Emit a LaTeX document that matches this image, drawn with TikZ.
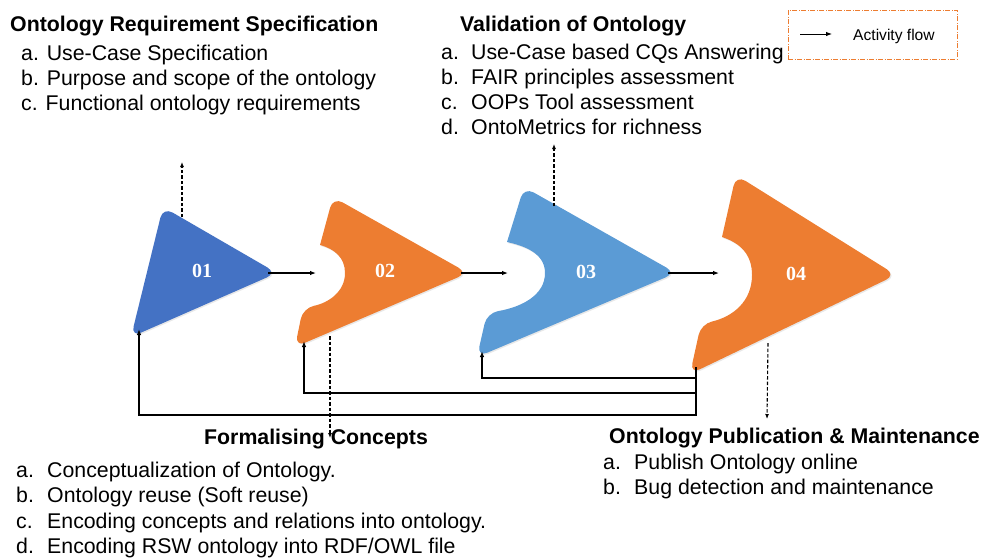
\documentclass[tikz,border=0pt]{standalone}
\usepackage{fontspec}
\setsansfont{Liberation Sans}
\newfontfamily\numfont{Liberation Serif}
\usetikzlibrary{arrows.meta,shadows}
\definecolor{cblue}{HTML}{4472C4}
\definecolor{corange}{HTML}{ED7D31}
\definecolor{clight}{HTML}{5B9BD5}
\tikzset{
  shp/.style={drop shadow={shadow xshift=1.2pt,shadow yshift=-1.2pt,opacity=0.18}},
  num/.style={text=white,font=\numfont\bfseries\fontsize{20}{22}\selectfont},
  flow/.style={-{Latex[length=6pt,width=4.5pt]},line width=1.1pt},
  dflow/.style={-{Latex[length=5pt,width=4pt]},line width=1.1pt,dash pattern=on 3.5pt off 2pt},
  head/.style={anchor=base west,inner sep=0pt,font=\sffamily\bfseries\fontsize{21.3}{24}\selectfont},
  item/.style={anchor=base west,inner sep=0pt,font=\sffamily\fontsize{21.3}{24}\selectfont},
  legbox/.style={draw=corange,line width=0.9pt,dash pattern=on 5pt off 1.5pt on 1pt off 1.5pt,minimum width=169pt,minimum height=49pt,inner sep=0pt}
}
\begin{document}
\begin{tikzpicture}[x=1pt,y=-1pt]
\useasboundingbox (0,0) rectangle (981,558);
% shapes
\fill[cblue,shp,rounded corners=11pt] (147,272) -- (163,207) -- (277,273) -- (131,337) -- cycle;
\fill[corange,shp] (320,245) [rounded corners=11pt] -- (333,197) -- (468,273) -- (295,347) -- (303,308) [sharp corners]
  .. controls (328,303) and (345,292) .. (345,273) .. controls (345,258) and (335,249) .. (320,245) -- cycle;
\fill[clight,shp] (507,242) [rounded corners=11pt] -- (524,187) -- (676,273) -- (477,357) -- (487,313) [sharp corners]
  .. controls (522,307) and (545,295) .. (545,273) .. controls (545,256) and (530,247) .. (507,242) -- cycle;
\fill[corange,shp] (722,237) [rounded corners=11pt] -- (736,175) -- (896,275) -- (690,374) -- (701,324) [sharp corners]
  .. controls (732,317) and (752,302) .. (752,275) .. controls (752,254) and (740,243) .. (722,237) -- cycle;
\node[num] (n1) at (202,271) {01};
\node[num] (n2) at (385,271) {02};
\node[num] (n3) at (586,272) {03};
\node[num] (n4) at (796,274) {04};
% connector points
\coordinate (t1) at (268,273); \coordinate (t2) at (461,273); \coordinate (t3) at (668,273);
\coordinate (i2) at (316,273); \coordinate (i3) at (508,273); \coordinate (i4) at (719,273);
\coordinate (b1) at (139,329); \coordinate (b2) at (304,341); \coordinate (b3) at (482,351); \coordinate (b4) at (696,367);
\coordinate (u1) at (182,217); \coordinate (u1e) at (182,162);
\coordinate (u3) at (554,206); \coordinate (u3e) at (554,144);
\coordinate (d2) at (330,336); \coordinate (d2e) at (330,438);
\coordinate (d4) at (768,343); \coordinate (d4e) at (767,419);
\draw[flow] (t1) -- (i2);
\draw[flow] (t2) -- (i3);
\draw[flow] (t3) -- (i4);
\draw[flow] (b4) -- ++(0,48) -| (b1);
\draw[flow] (b4) -- ++(0,26) -| (b2);
\draw[flow] (b4) -- ++(0,11) -| (b3);
\draw[dflow] (u1) -- (u1e);
\draw[dflow] (u3) -- (u3e);
\draw[dflow] (d2) -- (d2e);
\draw[dflow] (d4) -- (d4e);
% legend
\node[legbox] (leg) at (872.5,34.5) {};
\coordinate (la) at (800,34); \coordinate (lb) at (832,34);
\draw[flow,line width=0.9pt] (la) -- (lb);
\node[item,font=\sffamily\fontsize{15.6}{18}\selectfont] (legt) at (853,40) {Activity flow};
% texts
\node[head] (h1) at (10,31) {Ontology Requirement Specification};
\node[item] (h1a) at (21,60) {a. Use-Case Specification};
\node[item] (h1b) at (21,85) {b. Purpose and scope of the ontology};
\node[item] (h1c) at (21,110) {c. Functional ontology requirements};
\node[head] (h3) at (460,31) {Validation of Ontology};
\node[item] (h3al) at (441,59) {a.}; \node[item] (h3a) at (471,59) {Use-Case based CQs Answering};
\node[item] (h3bl) at (441,84) {b.}; \node[item] (h3b) at (471,84) {FAIR principles assessment};
\node[item] (h3cl) at (441,109) {c.}; \node[item] (h3c) at (471,109) {OOPs Tool assessment};
\node[item] (h3dl) at (441,134) {d.}; \node[item] (h3d) at (471,134) {OntoMetrics for richness};
\node[head] (h2) at (204,444) {Formalising Concepts};
\node[item] (h2al) at (16,477) {a.}; \node[item] (h2a) at (47,477) {Conceptualization of Ontology.};
\node[item] (h2bl) at (16,502) {b.}; \node[item] (h2b) at (47,502) {Ontology reuse (Soft reuse)};
\node[item] (h2cl) at (16,528) {c.}; \node[item] (h2c) at (47,528) {Encoding concepts and relations into ontology.};
\node[item] (h2dl) at (16,553) {d.}; \node[item] (h2d) at (47,553) {Encoding RSW ontology into RDF/OWL file};
\node[head] (h4) at (609,443) {Ontology Publication \& Maintenance};
\node[item] (h4al) at (603,469) {a.}; \node[item] (h4a) at (634,469) {Publish Ontology online};
\node[item] (h4bl) at (603,494) {b.}; \node[item] (h4b) at (634,494) {Bug detection and maintenance};
\end{tikzpicture}
\end{document}
